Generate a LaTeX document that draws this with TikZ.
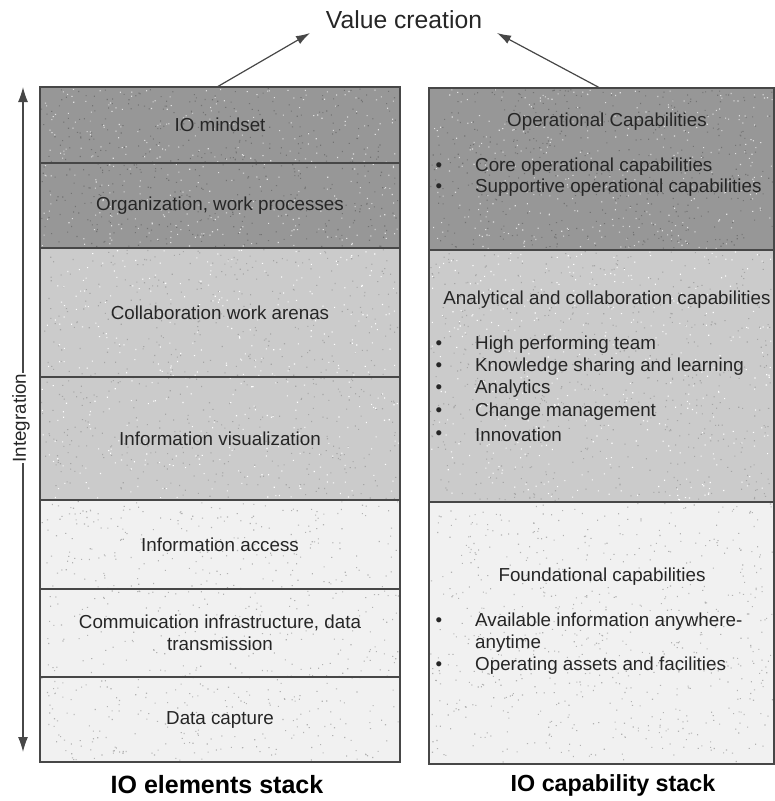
\documentclass[tikz,border=0pt]{standalone}
\usepackage{fontspec}
\setmainfont{Liberation Sans}
\usetikzlibrary{arrows.meta}
\definecolor{dk}{HTML}{979797}
\definecolor{md}{HTML}{CBCBCB}
\definecolor{lt}{HTML}{F1F1F1}
\definecolor{ink}{HTML}{262626}
\definecolor{edge}{HTML}{474747}
\newcommand{\mySpeck}[6]{%
  \fill[#6] \foreach \k in {1,...,#5}{%
    ({#1+rnd*(#3-#1)},{#2+rnd*(#4-#2)}) rectangle ++(1.1,1.1)};}
\begin{document}
\begin{tikzpicture}[x=1pt,y=-1pt,
  lbl/.style={text=ink, inner sep=0pt, font=\fontsize{18.8pt}{22pt}\selectfont},
  row/.style={draw=edge, line width=1.3pt, inner sep=0pt, align=center, text=ink,
              font=\fontsize{18.8pt}{22pt}\selectfont},
  ttl/.style={text=black, inner sep=0pt, font=\fontsize{25pt}{28pt}\selectfont\bfseries},
  arr/.style={draw=edge, line width=1.2pt, -{Latex[length=14pt,width=9pt]}},
  darr/.style={draw=edge, line width=1.2pt, {Latex[length=15pt,width=10pt]}-{Latex[length=15pt,width=10pt]}}]
\useasboundingbox (0,0) rectangle (775,801);
\pgfmathsetseed{7}
% fills
\fill[dk] (40,87) rectangle (400,248);
\fill[md] (40,248) rectangle (400,500);
\fill[lt] (40,500) rectangle (400,762);
\fill[dk] (429,88) rectangle (774,250);
\fill[md] (429,250) rectangle (774,502);
\fill[lt] (429,502) rectangle (774,764);
% texture
\mySpeck{41}{88}{398}{246}{500}{black!55}
\mySpeck{41}{88}{398}{246}{350}{white!70!dk}
\mySpeck{430}{89}{772}{248}{500}{black!55}
\mySpeck{430}{89}{772}{248}{350}{white!70!dk}
\mySpeck{41}{249}{398}{498}{600}{black!35}
\mySpeck{41}{249}{398}{498}{400}{white}
\mySpeck{430}{251}{772}{500}{600}{black!35}
\mySpeck{430}{251}{772}{500}{400}{white}
\mySpeck{41}{501}{398}{760}{700}{black!30}
\mySpeck{430}{503}{772}{762}{700}{black!30}
% left stack
\node[row, minimum width=360pt, minimum height=76pt]  (l1) at (220,125)   {IO mindset};
\node[row, minimum width=360pt, minimum height=85pt]  (l2) at (220,205.5) {Organization, work processes};
\node[row, minimum width=360pt, minimum height=129pt] (l3) at (220,312.5) {Collaboration work arenas};
\node[row, minimum width=360pt, minimum height=123pt] (l4) at (220,438.5) {Information visualization};
\node[row, minimum width=360pt, minimum height=89pt]  (l5) at (220,544.5) {Information access};
\node[row, minimum width=360pt, minimum height=88pt]  (l6) at (220,633)   {Commuication infrastructure, data\\transmission};
\node[row, minimum width=360pt, minimum height=85pt]  (l7) at (220,719.5) {Data capture};
% right stack
\node[row, minimum width=345pt, minimum height=162pt] (r1) at (601.5,169) {};
\node[row, minimum width=345pt, minimum height=252pt] (r2) at (601.5,376) {};
\node[row, minimum width=345pt, minimum height=262pt] (r3) at (601.5,633) {};
% right texts
\node[lbl] (h1) at (607,122) {Operational Capabilities};
\node[lbl] (b11) at (439,167) {•};
\node[lbl, anchor=west] (t11) at (475,167) {Core operational capabilities};
\node[lbl] (b12) at (439,188) {•};
\node[lbl, anchor=west] (t12) at (475,188) {Supportive operational capabilities};
\node[lbl] (h2) at (607,300) {Analytical and collaboration capabilities};
\node[lbl] (b21) at (439,345) {•};
\node[lbl, anchor=west] (t21) at (475,345) {High performing team};
\node[lbl] (b22) at (439,367) {•};
\node[lbl, anchor=west] (t22) at (475,367) {Knowledge sharing and learning};
\node[lbl] (b23) at (439,389) {•};
\node[lbl, anchor=west] (t23) at (475,389) {Analytics};
\node[lbl] (b24) at (439,412) {•};
\node[lbl, anchor=west] (t24) at (475,412) {Change management};
\node[lbl] (b25) at (439,435) {•};
\node[lbl, anchor=west] (t25) at (475,435) {Innovation};
\node[lbl] (h3) at (602,577) {Foundational capabilities};
\node[lbl] (b31) at (439,622) {•};
\node[lbl, anchor=west] (t31) at (475,622) {Available information anywhere-};
\node[lbl, anchor=west] (t32) at (475,644) {anytime};
\node[lbl] (b33) at (439,666) {•};
\node[lbl, anchor=west] (t33) at (475,666) {Operating assets and facilities};
% titles
\node[ttl] (tl) at (217,785) {IO elements stack};
\node[ttl, font=\fontsize{23.3pt}{28pt}\selectfont\bfseries] (tr) at (613,785) {IO capability stack};
% value creation
\node[text=ink, inner sep=0pt, font=\fontsize{24.7pt}{28pt}\selectfont] (vc) at (404,20) {Value creation};
\coordinate (vl) at (310,33);
\coordinate (vr) at (497,33);
\coordinate (sl) at (217,87);
\coordinate (sr) at (600,88);
\draw[arr] (sl) -- (vl);
\draw[arr] (sr) -- (vr);
% integration
\coordinate (itop) at (23,87);
\coordinate (ibot) at (23,752);
\draw[darr] (ibot) -- (itop);
\node[lbl, rotate=90, fill=white, inner sep=1pt] (integ) at (21,418) {Integration};
\end{tikzpicture}
\end{document}
